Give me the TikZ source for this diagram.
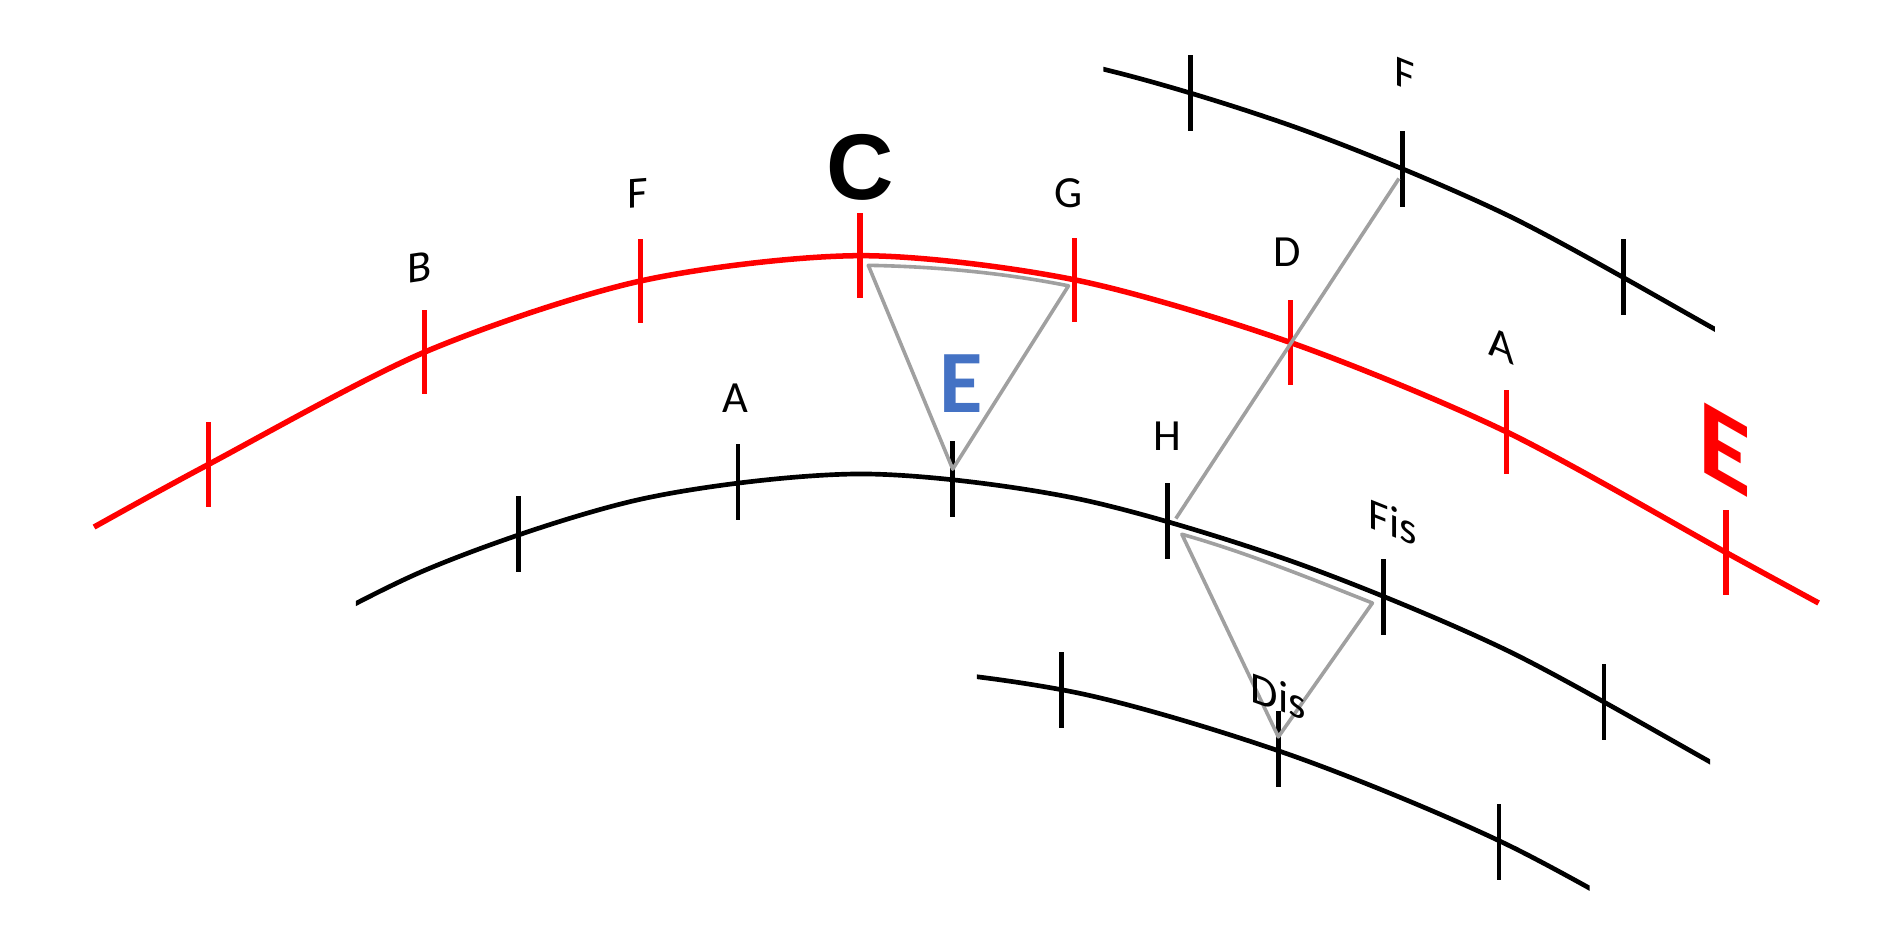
\documentclass[tikz,border=0pt]{standalone}
\usepackage{fontspec}
\usepackage{xcolor}
\setmainfont{Carlito}
\newfontfamily\cfont{Liberation Sans}
\definecolor{eblue}{RGB}{68,114,196}
\definecolor{lgrey}{RGB}{160,160,160}
% the red arc; the black arcs are copies of it moved up or down
\newcommand{\redarc}{plot[smooth] coordinates {(78,437) (173,385) (352,292) (531,233) (713,212) (891,232) (1070,284) (1249,358) (1431,458) (1508,500)}}

\begin{document}
\begin{tikzpicture}[x=0.01cm, y=-0.01cm,
  rtick/.style = {fill=red, inner sep=0pt, minimum width=1.3pt, minimum height=0.7cm},
  btick/.style = {fill=black, inner sep=0pt, minimum width=1.1pt, minimum height=0.63cm},
  arcline/.style = {line width=1.1pt},
  lbl/.style = {inner sep=0pt, font=\fontsize{10.5}{12}\selectfont},
  guide/.style = {draw=lgrey, line width=0.85pt, line join=round}]
\useasboundingbox (0,0) rectangle (1568,784);

% red arc
\draw[red, line width=1.3pt] \redarc;
\node[rtick] (r1) at (173,385) {};
\node[rtick] (r2) at (352,292) {};
\node[rtick] (r3) at (531,233) {};
\node[rtick] (r4) at (713,212) {};
\node[rtick] (r5) at (891,232) {};
\node[rtick] (r6) at (1070,284) {};
\node[rtick] (r7) at (1249,358) {};
\node[rtick] (r8) at (1431,458) {};

% middle black arc
\begin{scope}
  \clip (295,0) rectangle (1418,784);
  \draw[arcline, shift={(0,181)}] \redarc;
\end{scope}
\node[btick] (m1) at (430,443) {};
\node[btick] (m2) at (612,400) {};
\node[btick] (m3) at (790,397) {};
\node[btick] (m4) at (968,432) {};
\node[btick] (m5) at (1147,495) {};
\node[btick] (m6) at (1330,582) {};

% top black arc
\begin{scope}
  \clip (915,0) rectangle (1422,784);
  \draw[arcline, shift={(0,-180)}] \redarc;
\end{scope}
\node[btick] (t1) at (987,77) {};
\node[btick] (t2) at (1163,140) {};
\node[btick] (t3) at (1346,230) {};

% bottom black arc
\begin{scope}
  \clip (810,0) rectangle (1318,784);
  \draw[arcline, shift={(0,342)}] \redarc;
\end{scope}
\node[btick] (b1) at (880,572) {};
\node[btick] (b2) at (1060,621) {};
\node[btick] (b3) at (1243,698) {};

% grey guides
\coordinate (p1) at (720,220);
\coordinate (p2) at (886,237);
\coordinate (p3) at (790,389);
\draw[guide] (p1) .. controls (775,221) and (831,226) .. (p2) -- (p3) -- cycle;
\coordinate (g1) at (1160,148);
\coordinate (g2) at (975,430);
\draw[guide] (g1) -- (g2);
\coordinate (q1) at (980,443);
\coordinate (q2) at (1138,500);
\coordinate (q3) at (1060,611);
\draw[guide] (q1) .. controls (1033,458) and (1085,479) .. (q2) -- (q3) -- cycle;

% labels
\node[lbl, yslant=0.15] (lB) at (348,222) {B};
\node[lbl, yslant=0.08] (lF) at (529,160) {F};
\node[inner sep=0pt, font=\cfont\bfseries\fontsize{22}{26}\selectfont] (lC) at (713,139) {C};
\node[lbl] (lG) at (886,160) {G};
\node[lbl] (lD) at (1067,209) {D};
\node[lbl, yslant=-0.43] (lA2) at (1245,287) {A};
\node[lbl, yslant=-0.4] (lF2) at (1165,62) {F};
\node[lbl] (lA) at (610,330) {A};
\node[lbl] (lH) at (968,362) {H};
\node[lbl, yslant=-0.4] (lFis) at (1155,433) {Fis};
\node[lbl, yslant=-0.36] (lDis) at (1060,577) {Dis};
\node[inner sep=0pt, text=eblue, font=\bfseries\fontsize{21}{25}\selectfont] (eIn) at (797,318) {E};
\node[inner sep=0pt, text=red, yslant=-0.57, font=\bfseries\fontsize{25.5}{30}\selectfont] (eOut) at (1430,373) {E};
\end{tikzpicture}
\end{document}
